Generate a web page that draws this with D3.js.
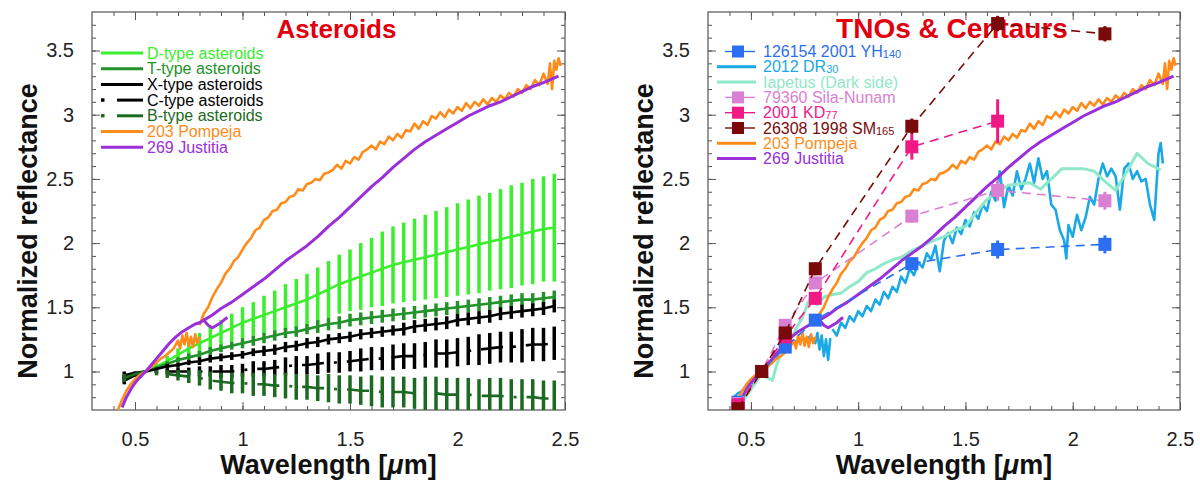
<!DOCTYPE html>
<html>
<head>
<meta charset="utf-8">
<title>Asteroids vs TNOs & Centaurs</title>
<script src="https://d3js.org/d3.v7.min.js"></script>
<style>
  body { margin: 0; background: #fff; }
  text { font-family: "Liberation Sans", Arial, Helvetica, sans-serif; }
</style>
</head>
<body>
<svg id="chart" width="1200" height="483"></svg>
<script>
// ---------- data ----------
// asteroid taxonomic means, sampled every 0.05 um
var wlGrid = [0.45,0.50,0.55,0.60,0.65,0.70,0.75,0.80,0.85,0.90,
              0.95,1.00,1.05,1.10,1.15,1.20,1.25,1.30,1.35,1.40,
              1.45,1.50,1.55,1.60,1.65,1.70,1.75,1.80,1.85,1.90,
              1.95,2.00,2.05,2.10,2.15,2.20,2.25,2.30,2.35,2.40,2.45];

var dMean = [0.93,0.97,1.00,1.04,1.08,1.13,1.18,1.22,1.26,1.30,
             1.34,1.38,1.41,1.44,1.47,1.50,1.53,1.56,1.60,1.64,
             1.68,1.71,1.74,1.77,1.80,1.83,1.85,1.87,1.89,1.91,
             1.93,1.95,1.97,1.99,2.01,2.03,2.05,2.07,2.09,2.11,2.12];
var dErr  = [0.02,0.01,0.00,0.02,0.04,0.05,0.07,0.08,0.09,0.10,
             0.11,0.12,0.13,0.15,0.16,0.18,0.19,0.20,0.21,0.22,
             0.23,0.24,0.26,0.27,0.29,0.30,0.31,0.32,0.33,0.34,
             0.35,0.36,0.37,0.38,0.38,0.39,0.40,0.40,0.41,0.41,0.42];

var tMean = [0.95,0.98,1.00,1.03,1.06,1.09,1.11,1.13,1.16,1.18,
             1.20,1.22,1.24,1.26,1.28,1.30,1.31,1.33,1.35,1.37,
             1.38,1.40,1.41,1.42,1.43,1.44,1.45,1.46,1.47,1.48,
             1.49,1.50,1.51,1.52,1.53,1.54,1.55,1.56,1.56,1.57,1.58];
var tErr  = [0.02,0.01,0.00,0.01,0.02,0.02,0.03,0.03,0.03,0.03,
             0.03,0.04,0.04,0.04,0.04,0.04,0.04,0.04,0.05,0.05,
             0.05,0.05,0.05,0.05,0.05,0.05,0.05,0.05,0.05,0.05,
             0.05,0.05,0.05,0.05,0.05,0.05,0.05,0.05,0.05,0.05,0.05];

var xMean = [0.97,0.99,1.00,1.02,1.04,1.05,1.07,1.08,1.10,1.11,
             1.12,1.13,1.15,1.16,1.17,1.19,1.20,1.22,1.23,1.25,
             1.26,1.27,1.29,1.30,1.31,1.32,1.33,1.35,1.36,1.37,
             1.38,1.40,1.41,1.42,1.43,1.45,1.46,1.47,1.48,1.49,1.51];
var xErr  = [0.03,0.01,0.00,0.01,0.02,0.02,0.02,0.03,0.03,0.03,
             0.03,0.03,0.03,0.04,0.04,0.04,0.04,0.04,0.04,0.04,
             0.04,0.04,0.04,0.04,0.04,0.04,0.05,0.05,0.05,0.05,
             0.05,0.05,0.05,0.05,0.05,0.05,0.05,0.05,0.05,0.05,0.05];

var cMean = [0.93,0.97,1.00,1.00,1.00,1.00,1.00,1.00,1.00,1.00,
             1.00,1.01,1.02,1.02,1.03,1.04,1.05,1.05,1.06,1.07,
             1.07,1.08,1.09,1.10,1.10,1.11,1.12,1.12,1.13,1.14,
             1.14,1.15,1.16,1.17,1.18,1.19,1.19,1.20,1.21,1.21,1.22];
var cErr  = [0.03,0.01,0.00,0.01,0.02,0.03,0.03,0.04,0.04,0.05,
             0.05,0.05,0.06,0.06,0.06,0.07,0.07,0.07,0.08,0.08,
             0.08,0.08,0.09,0.09,0.09,0.10,0.10,0.10,0.10,0.11,
             0.11,0.11,0.11,0.12,0.12,0.12,0.12,0.13,0.13,0.13,0.13];

var bMean = [0.95,0.98,1.00,0.99,0.98,0.97,0.96,0.95,0.93,0.92,
             0.91,0.91,0.90,0.90,0.89,0.89,0.88,0.88,0.87,0.87,
             0.86,0.86,0.85,0.85,0.84,0.84,0.84,0.83,0.83,0.83,
             0.82,0.82,0.82,0.81,0.81,0.81,0.80,0.80,0.80,0.79,0.79];
var bErr  = [0.03,0.01,0.00,0.02,0.03,0.04,0.05,0.06,0.07,0.07,
             0.08,0.08,0.09,0.09,0.09,0.10,0.10,0.10,0.10,0.11,
             0.11,0.11,0.11,0.12,0.12,0.12,0.12,0.12,0.13,0.13,
             0.13,0.13,0.13,0.13,0.14,0.14,0.14,0.14,0.14,0.14,0.14];

// 203 Pompeja spectrum [wavelength, reflectance]
var pompejaVis = [[0.42,0.70],[0.44,0.78],[0.46,0.85],[0.48,0.90],[0.50,0.94],[0.52,0.97],
  [0.55,1.00],[0.58,1.04],[0.60,1.07],[0.62,1.10],[0.64,1.12],[0.66,1.15],[0.68,1.18],
  [0.70,1.24],[0.71,1.18],[0.72,1.28],[0.73,1.21],[0.74,1.30],[0.75,1.20],[0.76,1.27],
  [0.77,1.19],[0.78,1.29],[0.79,1.22],[0.80,1.27]];
var pompejaNir = [[0.80,1.36],[0.82,1.45],[0.84,1.50],[0.86,1.58],[0.88,1.64],[0.90,1.69],
  [0.92,1.76],[0.94,1.80],[0.96,1.86],[0.98,1.89],[1.00,1.95],[1.02,2.00],[1.04,2.04],
  [1.06,2.10],[1.08,2.12],[1.10,2.18],[1.12,2.20],[1.14,2.25],[1.16,2.26],[1.18,2.31],
  [1.20,2.32],[1.22,2.36],[1.24,2.37],[1.26,2.42],[1.28,2.41],[1.30,2.46],[1.32,2.47],
  [1.34,2.50],[1.36,2.49],[1.38,2.54],[1.40,2.55],[1.42,2.57],[1.44,2.61],[1.46,2.58],
  [1.48,2.64],[1.50,2.62],[1.52,2.67],[1.54,2.65],[1.56,2.71],[1.58,2.73],[1.60,2.76],
  [1.62,2.73],[1.64,2.79],[1.66,2.77],[1.68,2.83],[1.70,2.80],[1.72,2.85],[1.74,2.82],
  [1.76,2.88],[1.78,2.87],[1.80,2.93],[1.82,2.89],[1.84,2.95],[1.86,2.92],[1.88,2.99],
  [1.90,2.97],[1.92,3.02],[1.94,2.98],[1.96,3.04],[1.98,3.01],[2.00,3.06],[2.02,3.03],
  [2.04,3.09],[2.06,3.05],[2.08,3.10],[2.10,3.07],[2.12,3.12],[2.14,3.08],[2.16,3.13],
  [2.18,3.10],[2.20,3.15],[2.22,3.12],[2.24,3.17],[2.26,3.14],[2.28,3.20],[2.30,3.17],
  [2.32,3.23],[2.34,3.20],[2.36,3.27],[2.38,3.23],[2.40,3.32],[2.42,3.24],[2.43,3.40],
  [2.44,3.20],[2.45,3.42],[2.46,3.35],[2.47,3.44],[2.48,3.38]];

// 269 Justitia spectrum
var justitiaVis = [[0.44,0.72],[0.46,0.80],[0.48,0.86],[0.50,0.91],[0.52,0.95],[0.55,1.00],
  [0.58,1.06],[0.60,1.10],[0.63,1.16],[0.66,1.22],[0.69,1.27],[0.72,1.31],[0.75,1.34],
  [0.78,1.37],[0.80,1.38],[0.82,1.40],[0.84,1.36],[0.86,1.34],[0.88,1.36],[0.90,1.38],
  [0.92,1.41],[0.93,1.42]];
var justitiaNir = [[0.82,1.40],[0.86,1.44],[0.90,1.49],[0.95,1.54],[1.00,1.60],[1.05,1.66],
  [1.10,1.72],[1.15,1.79],[1.20,1.86],[1.25,1.92],[1.30,1.98],[1.35,2.05],[1.40,2.13],
  [1.45,2.20],[1.50,2.28],[1.55,2.36],[1.60,2.44],[1.65,2.51],[1.70,2.59],[1.75,2.66],
  [1.80,2.73],[1.85,2.79],[1.90,2.84],[1.95,2.89],[2.00,2.94],[2.05,2.99],[2.10,3.03],
  [2.15,3.07],[2.20,3.10],[2.25,3.14],[2.30,3.18],[2.35,3.22],[2.40,3.25],[2.47,3.30]];

// 2012 DR30 spectrum
var dr30Vis = [[0.42,0.80],[0.44,0.83],[0.46,0.85],[0.48,0.88],[0.50,0.92],[0.52,0.95],
  [0.55,1.00],[0.58,1.05],[0.60,1.08],[0.62,1.12],[0.64,1.16],[0.66,1.20],[0.68,1.22],
  [0.70,1.24],[0.72,1.23],[0.74,1.26],[0.76,1.25],[0.78,1.28],[0.80,1.22],[0.81,1.30],
  [0.82,1.17],[0.83,1.28],[0.84,1.12],[0.85,1.25],[0.86,1.09],[0.87,1.26]];
var dr30Nir = [[0.88,1.33],[0.90,1.28],[0.92,1.38],[0.94,1.34],[0.96,1.43],[0.98,1.39],
  [1.00,1.47],[1.02,1.43],[1.04,1.51],[1.06,1.47],[1.08,1.56],[1.10,1.52],[1.12,1.62],
  [1.14,1.57],[1.16,1.66],[1.18,1.62],[1.20,1.74],[1.22,1.69],[1.24,1.80],[1.26,1.75],
  [1.28,1.85],[1.30,1.81],[1.32,1.92],[1.34,1.87],[1.36,1.98],[1.38,1.78],[1.40,2.02],
  [1.42,2.08],[1.44,2.00],[1.46,2.12],[1.48,2.07],[1.50,2.18],[1.52,2.13],[1.54,2.24],
  [1.56,2.19],[1.58,2.30],[1.60,2.25],[1.62,2.40],[1.64,2.33],[1.66,2.56],[1.68,2.28],
  [1.70,2.45],[1.72,2.37],[1.74,2.56],[1.76,2.42],[1.78,2.50],[1.80,2.62],[1.82,2.47],
  [1.84,2.66],[1.86,2.50],[1.88,2.56],[1.90,2.30],[1.92,2.26],[1.94,2.10],[1.96,2.02],
  [1.97,1.88],[1.98,2.14],[2.00,2.05],[2.02,2.22],[2.04,2.10],[2.06,2.20],[2.08,2.36],
  [2.10,2.30],[2.12,2.50],[2.14,2.62],[2.16,2.52],[2.18,2.58],[2.20,2.52],[2.22,2.26],
  [2.24,2.58],[2.26,2.62],[2.28,2.50],[2.30,2.56],[2.32,2.48],[2.34,2.50],[2.36,2.30],
  [2.38,2.18],[2.40,2.70],[2.41,2.78],[2.42,2.62]];

// Iapetus (dark side) spectrum
var iapetus = [[0.45,0.74],[0.50,0.86],[0.55,0.98],[0.58,0.95],[0.60,0.93],[0.62,1.05],
  [0.64,1.14],[0.66,1.20],[0.70,1.30],[0.74,1.42],[0.77,1.55],[0.79,1.60],[0.81,1.52],
  [0.84,1.58],[0.88,1.60],[0.92,1.61],[0.96,1.66],[1.00,1.70],[1.04,1.77],[1.08,1.80],
  [1.12,1.84],[1.16,1.87],[1.20,1.89],[1.25,1.94],[1.30,1.98],[1.35,2.02],[1.40,2.05],
  [1.45,2.10],[1.50,2.13],[1.55,2.24],[1.60,2.34],[1.65,2.40],[1.70,2.45],[1.75,2.46],
  [1.80,2.47],[1.85,2.42],[1.90,2.50],[1.95,2.58],[2.00,2.58],[2.05,2.58],[2.10,2.56],
  [2.15,2.48],[2.20,2.41],[2.25,2.55],[2.30,2.70],[2.35,2.62],[2.41,2.57]];

// broadband colours of TNOs / Centaurs (B V R I J H K)
var bands     = [0.44, 0.55, 0.66, 0.80, 1.25, 1.65, 2.15];
var yh140     = [0.76, 1.00, 1.19, 1.40, 1.84, 1.95, 1.99];
var yh140Err  = [0, 0, 0.02, 0.03, 0.04, 0.07, 0.07];
var silaNunam = [0.75, 1.00, 1.36, 1.69, 2.21, 2.41, 2.33];
var silaErr   = [0, 0, 0.03, 0.04, 0.05, 0.08, 0.07];
var kd77      = [0.74, 1.00, 1.27, 1.57, 2.75, 2.95, null];
var kd77Err   = [0, 0, 0.03, 0.05, 0.10, 0.17, 0];
var sm165     = [0.71, 1.00, 1.30, 1.80, 2.91, 3.71, 3.63];
var sm165Err  = [0, 0, 0.03, 0.05, 0.06, 0.06, 0.06];

var xTicks = [0.5, 1, 1.5, 2, 2.5];
var yTicks = [1, 1.5, 2, 2.5, 3, 3.5];

// ---------- colours ----------
var cD = "#3bee2e", cT = "#22922a", cX = "#000000", cC = "#000000", cB = "#1c6a22";
var cPom = "#ff8c1a", cJus = "#9b2fd9";
var cYH = "#2b6ef2", cDR = "#1aa9e6", cIap = "#8fe8c8", cSila = "#da80d3",
    cKD = "#f01a86", cSM = "#7a0a0a";
var cTitle = "#e2000f";

var svg = d3.select("#chart");
var top0 = 12, bot0 = 410;

function makePanel(id, left, right, titleText, titleSize) {
  var x = d3.scaleLinear().domain([0.3, 2.5]).range([left, right]);
  var y = d3.scaleLinear().domain([0.7, 3.8]).range([bot0, top0]);
  var g = svg.append("g");

  g.append("clipPath").attr("id", "clip" + id)
    .append("rect").attr("x", left).attr("y", top0)
    .attr("width", right - left).attr("height", bot0 - top0);

  var minorX = d3.range(4, 25).map(function(i) { return i / 10; });
  var minorY = d3.range(8, 38).map(function(i) { return i / 10; });

  function axisGroup(axis, tx, ty) {
    var a = g.append("g").attr("transform", "translate(" + tx + "," + ty + ")").call(axis);
    a.select(".domain").remove();
    a.selectAll("line").attr("stroke", "#555");
    return a;
  }
  // bottom
  axisGroup(d3.axisBottom(x).tickValues(minorX).tickSize(-4).tickFormat(""), 0, bot0);
  var bx = axisGroup(d3.axisBottom(x).tickValues(xTicks).tickSize(-8).tickPadding(22)
    .tickFormat(d3.format("")), 0, bot0);
  bx.selectAll("text").attr("font-size", 20).attr("fill", "#222")
    .attr("font-family", "Liberation Sans, Arial, sans-serif");
  // top
  axisGroup(d3.axisTop(x).tickValues(minorX).tickSize(-4).tickFormat(""), 0, top0);
  axisGroup(d3.axisTop(x).tickValues(xTicks).tickSize(-8).tickFormat(""), 0, top0);
  // left
  axisGroup(d3.axisLeft(y).tickValues(minorY).tickSize(-4).tickFormat(""), left, 0);
  var ly = axisGroup(d3.axisLeft(y).tickValues(yTicks).tickSize(-8).tickPadding(18)
    .tickFormat(d3.format("")), left, 0);
  ly.selectAll("text").attr("font-size", 20).attr("fill", "#222")
    .attr("font-family", "Liberation Sans, Arial, sans-serif");
  // right
  axisGroup(d3.axisRight(y).tickValues(minorY).tickSize(-4).tickFormat(""), right, 0);
  axisGroup(d3.axisRight(y).tickValues(yTicks).tickSize(-8).tickFormat(""), right, 0);

  g.append("rect").attr("x", left).attr("y", top0)
    .attr("width", right - left).attr("height", bot0 - top0)
    .attr("fill", "none").attr("stroke", "#555").attr("stroke-width", 1.2);

  // axis titles
  g.append("text")
    .attr("transform", "translate(" + (left - 55) + "," + ((top0 + bot0) / 2 + 20) + ") rotate(-90)")
    .attr("text-anchor", "middle").attr("font-size", 27).attr("font-weight", "bold")
    .attr("fill", "#111").text("Normalized reflectance");
  var xl = g.append("text")
    .attr("x", (left + right) / 2).attr("y", 474)
    .attr("text-anchor", "middle").attr("font-size", 27).attr("font-weight", "bold")
    .attr("fill", "#111");
  xl.append("tspan").text("Wavelength [");
  xl.append("tspan").attr("font-style", "italic").text("\u03bc");
  xl.append("tspan").text("m]");

  // panel title
  g.append("text").attr("x", (left + right) / 2 + 8).attr("y", 38)
    .attr("text-anchor", "middle").attr("font-size", titleSize).attr("font-weight", "bold")
    .attr("fill", cTitle).text(titleText);

  var plot = g.append("g").attr("clip-path", "url(#clip" + id + ")");
  return { x: x, y: y, plot: plot, g: g };
}

function drawSpectrum(p, pts, color, width) {
  var line = d3.line().x(function(d) { return p.x(d[0]); }).y(function(d) { return p.y(d[1]); });
  p.plot.append("path").datum(pts).attr("d", line)
    .attr("fill", "none").attr("stroke", color).attr("stroke-width", width)
    .attr("stroke-linejoin", "round");
}

// ---------- left panel: asteroids ----------
var L = makePanel("L", 92, 565, "Asteroids", 26);

function drawType(mean, err, color, dash) {
  var rows = wlGrid.map(function(w, i) { return { w: w, m: mean[i], e: err[i] }; });
  L.plot.append("g").selectAll("line").data(rows).enter().append("line")
    .attr("x1", function(d) { return L.x(d.w); }).attr("x2", function(d) { return L.x(d.w); })
    .attr("y1", function(d) { return L.y(d.m - d.e); }).attr("y2", function(d) { return L.y(d.m + d.e); })
    .attr("stroke", color).attr("stroke-width", 3.5);
  var line = d3.line().x(function(d) { return L.x(d.w); }).y(function(d) { return L.y(d.m); });
  L.plot.append("path").datum(rows).attr("d", line)
    .attr("fill", "none").attr("stroke", color).attr("stroke-width", 2.6)
    .attr("stroke-dasharray", dash || null);
}

drawType(dMean, dErr, cD);
drawType(tMean, tErr, cT);
drawType(xMean, xErr, cX);
drawType(cMean, cErr, cC, "22,10,3,10");
drawType(bMean, bErr, cB, "22,10,3,10");
drawSpectrum(L, pompejaVis, cPom, 2.6);
drawSpectrum(L, pompejaNir, cPom, 2.6);
drawSpectrum(L, justitiaVis, cJus, 3);
drawSpectrum(L, justitiaNir, cJus, 3);

var legL = [
  { t: "D-type asteroids", c: cD, w: 3 },
  { t: "T-type asteroids", c: cT, w: 3 },
  { t: "X-type asteroids", c: cX, w: 3 },
  { t: "C-type asteroids", c: cC, w: 3, dash: true },
  { t: "B-type asteroids", c: cB, w: 3, dash: true },
  { t: "203 Pompeja", c: cPom, w: 3 },
  { t: "269 Justitia", c: cJus, w: 3 }
];
var lgL = L.g.append("g");
legL.forEach(function(d, i) {
  var yy = 53 + i * 15.7;
  if (d.dash) {
    lgL.append("rect").attr("x", 101).attr("y", yy - 1.8).attr("width", 3.5).attr("height", 3.5).attr("fill", d.c);
    lgL.append("line").attr("x1", 117).attr("x2", 143).attr("y1", yy).attr("y2", yy)
      .attr("stroke", d.c).attr("stroke-width", d.w);
  } else {
    lgL.append("line").attr("x1", 101).attr("x2", 143).attr("y1", yy).attr("y2", yy)
      .attr("stroke", d.c).attr("stroke-width", d.w);
  }
  lgL.append("text").attr("x", 147).attr("y", yy + 5.5).attr("font-size", 16)
    .attr("fill", d.c).text(d.t);
});

// ---------- right panel: TNOs & Centaurs ----------
var R = makePanel("R", 708, 1180, "TNOs & Centaurs", 28);

drawSpectrum(R, dr30Vis, cDR, 2.6);
drawSpectrum(R, dr30Nir, cDR, 2.6);
drawSpectrum(R, iapetus, cIap, 3);
drawSpectrum(R, pompejaVis, cPom, 2.6);
drawSpectrum(R, pompejaNir, cPom, 2.6);
drawSpectrum(R, justitiaVis, cJus, 3);
drawSpectrum(R, justitiaNir, cJus, 3);

function drawColors(vals, errs, color) {
  var rows = bands.map(function(b, i) { return { w: b, v: vals[i], e: errs[i] }; })
    .filter(function(d) { return d.v !== null; });
  var line = d3.line().x(function(d) { return R.x(d.w); }).y(function(d) { return R.y(d.v); });
  R.plot.append("path").datum(rows).attr("d", line)
    .attr("fill", "none").attr("stroke", color).attr("stroke-width", 1.6)
    .attr("stroke-dasharray", "9,6");
  var gg = R.plot.append("g");
  gg.selectAll("line").data(rows.filter(function(d) { return d.e > 0; })).enter().append("line")
    .attr("x1", function(d) { return R.x(d.w); }).attr("x2", function(d) { return R.x(d.w); })
    .attr("y1", function(d) { return R.y(d.v - d.e); }).attr("y2", function(d) { return R.y(d.v + d.e); })
    .attr("stroke", color).attr("stroke-width", 3);
  gg.selectAll("rect").data(rows).enter().append("rect")
    .attr("x", function(d) { return R.x(d.w) - 6.5; }).attr("y", function(d) { return R.y(d.v) - 6.5; })
    .attr("width", 13).attr("height", 13).attr("fill", color);
}
drawColors(yh140, yh140Err, cYH);
drawColors(silaNunam, silaErr, cSila);
drawColors(kd77, kd77Err, cKD);
drawColors(sm165, sm165Err, cSM);

var legR = [
  { t: "126154 2001 YH", s: "140", c: cYH, marker: true },
  { t: "2012 DR", s: "30", c: cDR },
  { t: "Iapetus (Dark side)", c: cIap },
  { t: "79360 Sila-Nunam", c: cSila, marker: true },
  { t: "2001 KD", s: "77", c: cKD, marker: true },
  { t: "26308 1998 SM", s: "165", c: cSM, marker: true },
  { t: "203 Pompeja", c: cPom },
  { t: "269 Justitia", c: cJus }
];
var lgR = R.g.append("g");
legR.forEach(function(d, i) {
  var yy = 51.5 + i * 15.3;
  if (d.marker) {
    lgR.append("line").attr("x1", 725).attr("x2", 755).attr("y1", yy).attr("y2", yy)
      .attr("stroke", d.c).attr("stroke-width", 1.4);
    lgR.append("rect").attr("x", 732).attr("y", yy - 6).attr("width", 12).attr("height", 12).attr("fill", d.c);
  } else {
    lgR.append("line").attr("x1", 717).attr("x2", 756).attr("y1", yy).attr("y2", yy)
      .attr("stroke", d.c).attr("stroke-width", 3);
  }
  var t = lgR.append("text").attr("x", 763).attr("y", yy + 5.5).attr("font-size", 16)
    .attr("fill", d.c).text(d.t);
  if (d.s) t.append("tspan").attr("font-size", 11).attr("dy", 1).text(d.s);
});
</script>
</body>
</html>
